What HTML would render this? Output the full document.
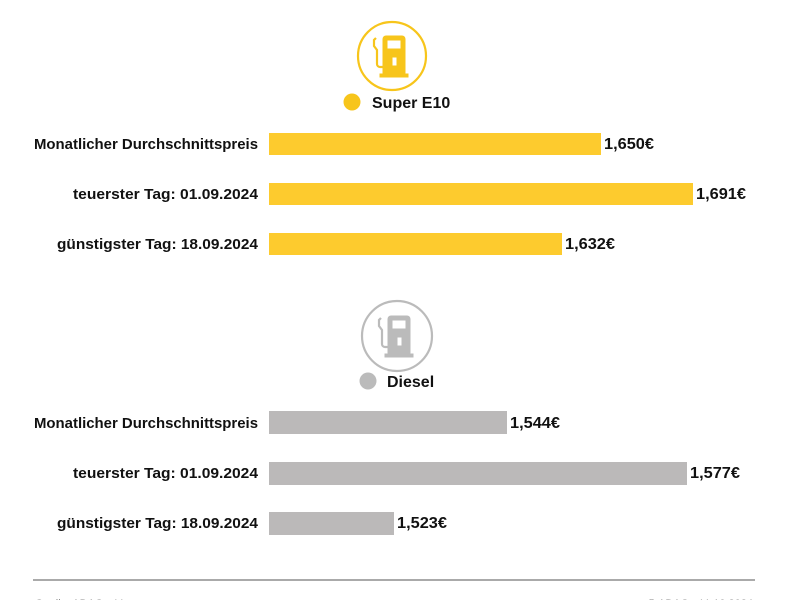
<!DOCTYPE html>
<html><head><meta charset="utf-8"><style>html,body{margin:0;padding:0;background:#fff}svg{display:block}</style></head>
<body>
<svg width="800" height="600" viewBox="0 0 800 600" xmlns="http://www.w3.org/2000/svg" font-family="Liberation Sans, sans-serif" font-weight="bold" font-size="15" fill="#111">
<defs>
<g id="pump">
  <rect x="-6" y="-19" width="22" height="40" rx="3"/>
  <rect x="-9" y="19" width="28" height="3"/>
  <rect x="-2" y="-15" width="14" height="9" fill="#fff"/>
  <rect x="3" y="2" width="5" height="9" fill="#fff"/>
  <path d="M-6 12 h-3 a3 3 0 0 1 -3 -3 v-14 l-3 -4 v-6 l2 -2" fill="none" stroke-width="2.2"/>
</g>
</defs>
<circle cx="392" cy="56" r="34" fill="none" stroke="#f7c51b" stroke-width="2.2"/>
<use href="#pump" x="389" y="55" fill="#f7c51b" stroke="#f7c51b"/>
<circle cx="352" cy="102" r="8.5" fill="#f7c51b"/>
<text x="372" y="108" font-size="16">Super E10</text>

<rect x="269" y="133" width="332" height="22" fill="#fdcb2e"/>
<rect x="269" y="183" width="424" height="22" fill="#fdcb2e"/>
<rect x="269" y="233" width="293" height="22" fill="#fdcb2e"/>
<g text-anchor="end">
<text x="258" y="149" textLength="224" lengthAdjust="spacingAndGlyphs">Monatlicher Durchschnittspreis</text>
<text x="258" y="199" textLength="185" lengthAdjust="spacingAndGlyphs">teuerster Tag: 01.09.2024</text>
<text x="258" y="249" textLength="201" lengthAdjust="spacingAndGlyphs">günstigster Tag: 18.09.2024</text>
<text x="258" y="428" textLength="224" lengthAdjust="spacingAndGlyphs">Monatlicher Durchschnittspreis</text>
<text x="258" y="478" textLength="185" lengthAdjust="spacingAndGlyphs">teuerster Tag: 01.09.2024</text>
<text x="258" y="528" textLength="201" lengthAdjust="spacingAndGlyphs">günstigster Tag: 18.09.2024</text>
</g>
<g font-size="15.5">
<text x="604" y="149" textLength="50" lengthAdjust="spacingAndGlyphs">1,650€</text>
<text x="696" y="199" textLength="50" lengthAdjust="spacingAndGlyphs">1,691€</text>
<text x="565" y="249" textLength="50" lengthAdjust="spacingAndGlyphs">1,632€</text>
<text x="510" y="428" textLength="50" lengthAdjust="spacingAndGlyphs">1,544€</text>
<text x="690" y="478" textLength="50" lengthAdjust="spacingAndGlyphs">1,577€</text>
<text x="397" y="528" textLength="50" lengthAdjust="spacingAndGlyphs">1,523€</text>
</g>

<circle cx="397" cy="336" r="35" fill="none" stroke="#bbb" stroke-width="2.2"/>
<use href="#pump" x="394" y="335" fill="#bbb" stroke="#bbb"/>
<circle cx="368" cy="381" r="8.5" fill="#bbb"/>
<text x="387" y="387" font-size="16">Diesel</text>

<rect x="269" y="411" width="238" height="23" fill="#bbb9b9"/>
<rect x="269" y="462" width="418" height="23" fill="#bbb9b9"/>
<rect x="269" y="512" width="125" height="23" fill="#bbb9b9"/>

<rect x="33" y="579" width="722" height="2" fill="#aaa"/>
<text x="35" y="607" font-size="11" font-weight="normal" fill="#888">Quelle: ADAC e.V.</text>
<text x="753" y="607" font-size="11" font-weight="normal" fill="#888" text-anchor="end">© ADAC e.V. 10.2024</text>
</svg>
</body></html>
